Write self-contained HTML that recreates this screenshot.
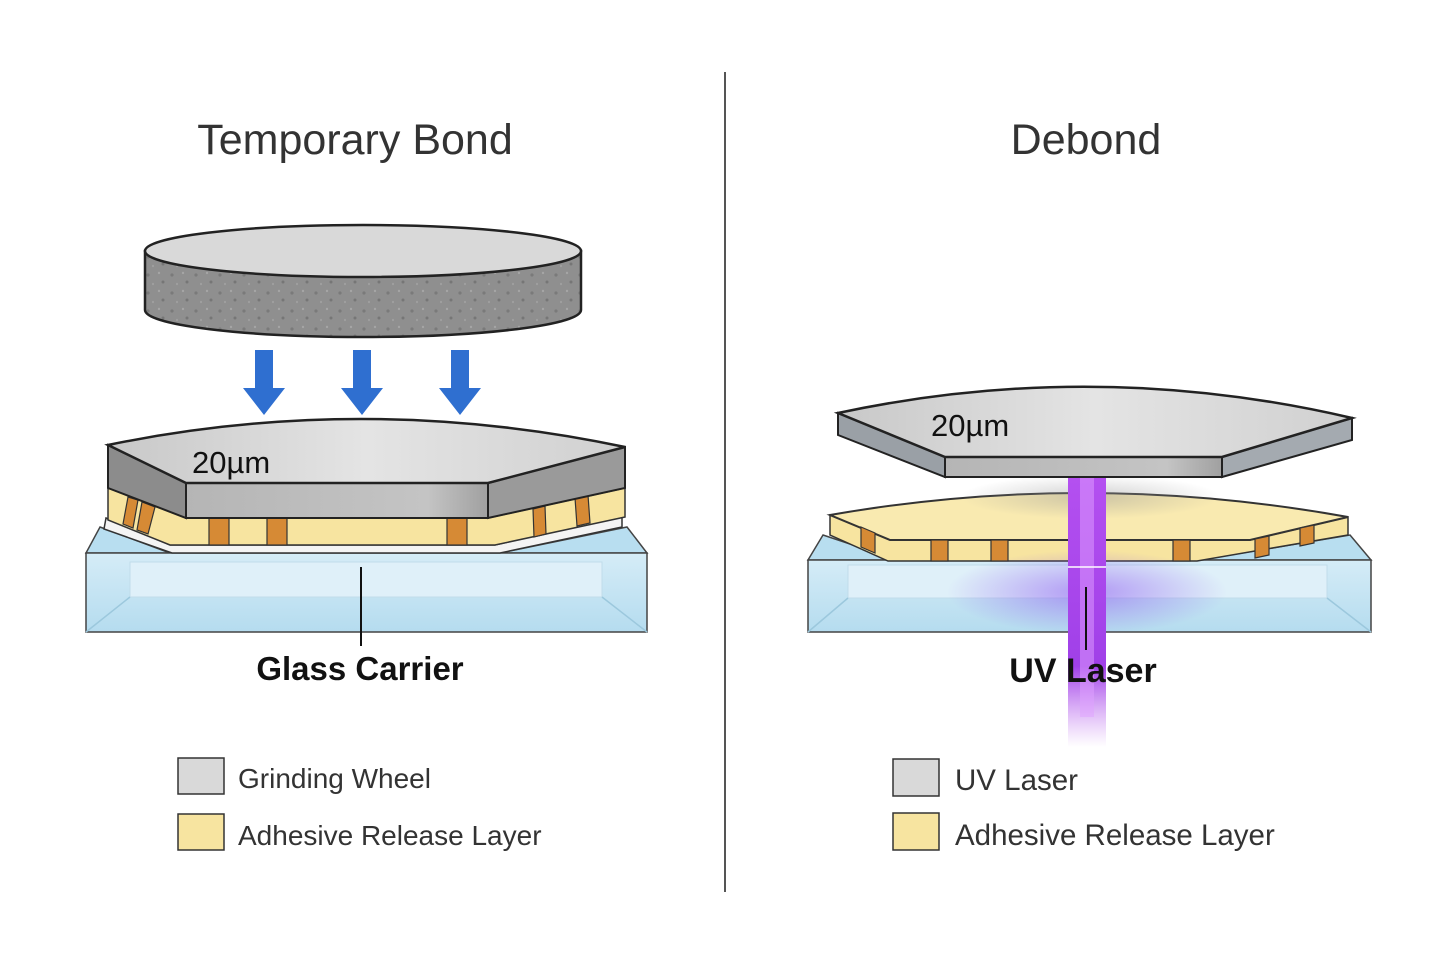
<!DOCTYPE html>
<html><head><meta charset="utf-8"><style>html,body{margin:0;padding:0;background:#fff}svg{display:block}</style></head>
<body>
<svg width="1456" height="971" viewBox="0 0 1456 971" xmlns="http://www.w3.org/2000/svg" font-family="Liberation Sans, DejaVu Sans, sans-serif">
<defs>
<linearGradient id="gt" x1="0" x2="1"><stop offset="0" stop-color="#c8c8c8"/><stop offset=".5" stop-color="#e4e4e4"/><stop offset="1" stop-color="#d0d0d0"/></linearGradient>
<linearGradient id="gf" x1="0" x2="1"><stop offset="0" stop-color="#b5b5b5"/><stop offset=".8" stop-color="#c4c4c4"/><stop offset="1" stop-color="#a0a0a0"/></linearGradient>
<linearGradient id="glass" x1="0" y1="0" x2="0" y2="1"><stop offset="0" stop-color="#d5ecf7"/><stop offset="1" stop-color="#b5dcef"/></linearGradient>
<linearGradient id="beam" x1="0" y1="0" x2="0" y2="1"><stop offset="0" stop-color="#b450f0"/><stop offset=".7" stop-color="#a040e8"/><stop offset="1" stop-color="#c070f0" stop-opacity="0"/></linearGradient>
<radialGradient id="glow" cx=".5" cy=".5" r=".5"><stop offset="0" stop-color="#8a50f0" stop-opacity=".55"/><stop offset="1" stop-color="#8a50f0" stop-opacity="0"/></radialGradient>
<radialGradient id="dust" cx=".5" cy=".5" r=".5"><stop offset="0" stop-color="#999" stop-opacity=".45"/><stop offset="1" stop-color="#999" stop-opacity="0"/></radialGradient>
<pattern id="speck" width="24" height="18" patternUnits="userSpaceOnUse"><rect width="24" height="18" fill="#8f8f8f"/><circle cx="4" cy="5" r="1.6" fill="#7a7a7a"/><circle cx="15" cy="3" r="1.2" fill="#a5a5a5"/><circle cx="19" cy="12" r="1.5" fill="#767676"/><circle cx="9" cy="14" r="1.1" fill="#a0a0a0"/></pattern>
</defs>

<text x="355" y="154" font-size="43" fill="#333" text-anchor="middle">Temporary Bond</text>
<text x="1086" y="154" font-size="43" fill="#333" text-anchor="middle">Debond</text>
<line x1="725" y1="72" x2="725" y2="892" stroke="#555" stroke-width="2"/>

<path d="M145,251 L145,310 A218,27 0 0 0 581,310 L581,251 Z" fill="url(#speck)" stroke="#222" stroke-width="2.5"/>
<ellipse cx="363" cy="251" rx="218" ry="26" fill="#d9d9d9" stroke="#222" stroke-width="2.5"/>

<g fill="#2f6fd0">
<path d="M255,350h18v38h12l-21,27l-21,-27h12z"/>
<path d="M353,350h18v38h12l-21,27l-21,-27h12z"/>
<path d="M451,350h18v38h12l-21,27l-21,-27h12z"/>
</g>

<path d="M100,527 L170,553 L86,553 Z" fill="#b8def0" stroke="#444" stroke-width="1.5"/>
<path d="M627,527 L647,553 L500,553 Z" fill="#b8def0" stroke="#444" stroke-width="1.5"/>
<rect x="86" y="553" width="561" height="79" fill="url(#glass)" stroke="#444" stroke-width="1.5"/>
<rect x="130" y="562" width="472" height="35" fill="#dff0f9" stroke="#c0dcea"/>
<path d="M130,597 L86,632 M602,597 L647,632" stroke="#9cc8dd" stroke-width="1.5"/>
<path d="M106,518 L170,545 L495,545 L622,516 L622,527 L500,553 L172,553 L104,529 Z" fill="#f4f4f4" stroke="#333" stroke-width="1.5"/>
<path d="M108,488 L186,518 L488,518 L625,488 L625,517 L495,545 L170,545 L108,520 Z" fill="#f7e4a0" stroke="#333" stroke-width="1.5"/>
<g fill="#d68a35" stroke="#333" stroke-width="1.2">
<rect x="209" y="518" width="20" height="27"/><rect x="267" y="518" width="20" height="27"/><rect x="447" y="518" width="20" height="27"/>
<path d="M128,497 L138,500 L133,528 L123,524Z"/><path d="M142,502 L155,507 L148,534 L137,530Z"/>
<path d="M533,509 L545,506 L546,534 L534,537Z"/><path d="M575,498 L588,495 L590,523 L577,526Z"/>
</g>
<path d="M108,445 L186,483 L186,518 L108,488 Z" fill="#8c8c8c" stroke="#222" stroke-width="2"/>
<path d="M488,483 L625,447 L625,488 L488,518 Z" fill="#9a9a9a" stroke="#222" stroke-width="2"/>
<rect x="186" y="483" width="302" height="35" fill="url(#gf)" stroke="#222" stroke-width="2"/>
<path d="M108,445 Q365,392 625,447 L488,483 L186,483 Z" fill="url(#gt)" stroke="#222" stroke-width="2.5"/>
<text x="192" y="473" font-size="31" fill="#111">20µm</text>
<line x1="361" y1="567" x2="361" y2="646" stroke="#111" stroke-width="2"/>
<text x="360" y="680" font-size="33" font-weight="bold" fill="#111" text-anchor="middle">Glass Carrier</text>

<!-- right glass -->
<path d="M823,535 L898,560 L808,560 Z" fill="#b8def0" stroke="#444" stroke-width="1.5"/>
<path d="M1350,535 L1371,560 L1200,560 Z" fill="#b8def0" stroke="#444" stroke-width="1.5"/>
<rect x="808" y="560" width="563" height="72" fill="url(#glass)" stroke="#444" stroke-width="1.5"/>
<rect x="848" y="565" width="479" height="33" fill="#dff0f9" stroke="#c0dcea"/>
<path d="M848,598 L808,632 M1327,598 L1371,632" stroke="#9cc8dd" stroke-width="1.5"/>
<!-- yellow right -->
<path d="M830,515 L890,540 L1250,540 L1348,517 L1348,535 L1197,561 L888,561 L830,535 Z" fill="#f7e4a0" stroke="#333" stroke-width="1.5"/>
<path d="M830,515 Q1088,470 1348,517 L1250,540 L890,540 Z" fill="#f9eab0" stroke="#333" stroke-width="2"/>
<g fill="#d68a35" stroke="#333" stroke-width="1.2">
<rect x="931" y="540" width="17" height="21"/><rect x="991" y="540" width="17" height="21"/><rect x="1173" y="540" width="17" height="21"/>
<path d="M861,527 L875,533 L875,553 L861,547Z"/><path d="M1255,539 L1269,536 L1269,555 L1255,558Z"/><path d="M1300,528 L1314,525 L1314,543 L1300,546Z"/>
</g>
<ellipse cx="1090" cy="497" rx="130" ry="22" fill="url(#dust)"/>
<ellipse cx="1087" cy="592" rx="140" ry="42" fill="url(#glow)"/>
<rect x="1068" y="477" width="38" height="270" fill="url(#beam)"/>
<rect x="1080" y="477" width="14" height="240" fill="#e0a0ff" opacity=".5"/>
<line x1="1068" y1="567" x2="1106" y2="567" stroke="#fff" stroke-width="1.5"/>
<path d="M838,413 L945,457 L945,477 L838,435 Z" fill="#9aa0a6" stroke="#222" stroke-width="2"/>
<path d="M1222,457 L1352,418 L1352,440 L1222,477 Z" fill="#a4aab0" stroke="#222" stroke-width="2"/>
<rect x="945" y="457" width="277" height="20" fill="url(#gf)" stroke="#222" stroke-width="2"/>
<path d="M838,413 Q1095,358 1352,418 L1222,457 L945,457 Z" fill="url(#gt)" stroke="#222" stroke-width="2.5"/>
<text x="931" y="436" font-size="31" fill="#111">20µm</text>
<line x1="1086" y1="587" x2="1086" y2="650" stroke="#111" stroke-width="2"/>
<text x="1083" y="682" font-size="34" font-weight="bold" fill="#111" text-anchor="middle">UV Laser</text>

<rect x="178" y="758" width="46" height="36" fill="#d9d9d9" stroke="#333" stroke-width="1.5"/>
<rect x="178" y="814" width="46" height="36" fill="#f7e4a0" stroke="#333" stroke-width="1.5"/>
<text x="238" y="788" font-size="28" fill="#333">Grinding Wheel</text>
<text x="238" y="845" font-size="28" fill="#333">Adhesive Release Layer</text>
<rect x="893" y="759" width="46" height="37" fill="#d9d9d9" stroke="#333" stroke-width="1.5"/>
<rect x="893" y="813" width="46" height="37" fill="#f7e4a0" stroke="#333" stroke-width="1.5"/>
<text x="955" y="790" font-size="29.5" fill="#333">UV Laser</text>
<text x="955" y="845" font-size="29.5" fill="#333">Adhesive Release Layer</text>
</svg>
</body></html>
